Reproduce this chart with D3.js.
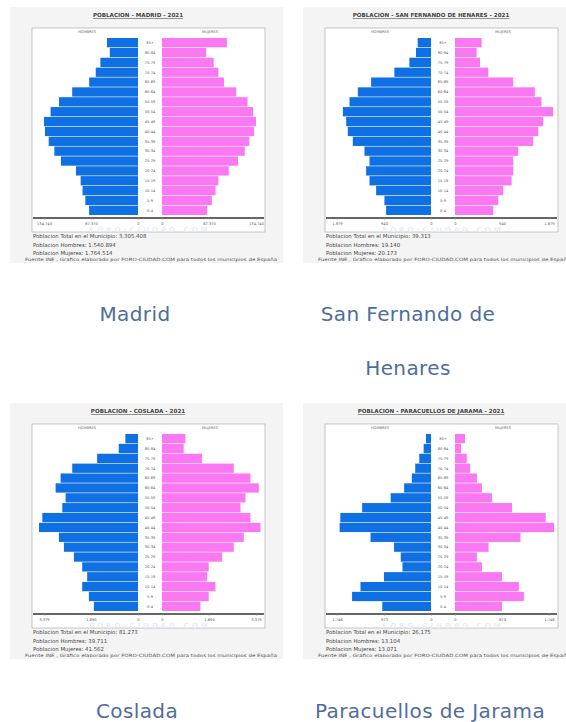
<!DOCTYPE html>
<html>
<head>
<meta charset="utf-8">
<script src="https://cdn.jsdelivr.net/npm/d3@7"></script>
<style>
  body { margin: 0; background: #fff; }
  svg { display: block; }
</style>
</head>
<body>
<svg id="chart"></svg>
<script>

// age groups, top to bottom
var ageGroups = ["85+","80-84","75-79","70-74","65-69","60-64","55-59","50-54","45-49",
                 "40-44","35-39","30-34","25-29","20-24","15-19","10-14","5-9","0-4"];

var madridMen   = [44500, 40400, 53900, 60600, 70000, 94300, 113200, 125300, 134700, 133400, 128000, 119900, 110500, 88900, 82200, 79500, 75500, 70100];
var madridWomen = [93000, 63300, 74100, 80800, 88900, 106400, 122600, 130700, 134700, 132000, 125300, 118600, 109100, 95700, 80800, 76800, 71400, 64700];
var madridTicks = [0, 67370, 134740];

var sanFerMen   = [266, 300, 432, 732, 1197, 1463, 1629, 1762, 1696, 1663, 1563, 1330, 1230, 1297, 1230, 1097, 931, 898];
var sanFerWomen = [532, 432, 499, 665, 1164, 1596, 1729, 1962, 1762, 1663, 1563, 1264, 1164, 1164, 1131, 964, 865, 765];
var sanFerTicks = [0, 940, 1879];

var cosladaMen   = [454, 693, 1469, 2364, 2782, 2961, 2603, 2722, 3439, 3558, 2842, 2663, 2304, 2006, 1827, 2006, 1767, 1588];
var cosladaWomen = [840, 780, 1440, 2580, 3180, 3480, 3000, 2820, 3180, 3540, 2940, 2580, 2160, 1680, 1620, 1920, 1680, 1380];
var cosladaTicks = [0, 1690, 3379];

var paracMen   = [94, 137, 218, 293, 356, 499, 749, 1279, 1685, 1697, 1123, 686, 562, 530, 874, 1310, 1466, 905];
var paracWomen = [187, 112, 218, 281, 406, 499, 686, 1061, 1685, 1841, 1217, 624, 406, 499, 874, 1186, 1279, 874];
var paracTicks = [0, 873, 1746];

var titles = ["POBLACION - MADRID - 2021", "POBLACION - SAN FERNANDO DE HENARES - 2021",
              "POBLACION - COSLADA - 2021", "POBLACION - PARACUELLOS DE JARAMA - 2021"];
var totals  = ["3.305.408", "39.313", "81.273", "26.175"];
var hombres = ["1.540.894", "19.140", "39.711", "13.104"];
var mujeres = ["1.764.514", "20.173", "41.562", "13.071"];
var captions = [["Madrid"], ["San Fernando de", "Henares"], ["Coslada"], ["Paracuellos de Jarama"]];

var municipios = [
  {men: madridMen, women: madridWomen, ticks: madridTicks, x: 10,  y: 7,   cx: 135, cy: 321},
  {men: sanFerMen, women: sanFerWomen, ticks: sanFerTicks, x: 303, y: 7,   cx: 408, cy: 321},
  {men: cosladaMen, women: cosladaWomen, ticks: cosladaTicks, x: 10, y: 403, cx: 137, cy: 718},
  {men: paracMen, women: paracWomen, ticks: paracTicks, x: 303, y: 403, cx: 430, cy: 718}
];

var esLocale = d3.formatLocale({decimal: ",", thousands: ".", grouping: [3], currency: ["", "€"]});
var fmt = esLocale.format(",d");

var svg = d3.select("#chart")
    .attr("width", 566)
    .attr("height", 722);

var blue = "#0f70e4", pink = "#fa78f1";

function drawPyramid(d, i) {
  var g = svg.append("g")
      .attr("transform", "translate(" + d.x + "," + d.y + ")");

  // panel background
  g.append("rect").attr("width", 273).attr("height", 256).attr("fill", "#f4f4f4");
  g.append("rect").attr("x", 22).attr("y", 21).attr("width", 233).attr("height", 204)
      .attr("fill", "#fff").attr("stroke", "#b8b8b8").attr("stroke-width", 0.8);

  g.append("text")
      .attr("x", 128).attr("y", 10)
      .attr("text-anchor", "middle")
      .style("font", "bold 5.6px 'DejaVu Sans'")
      .style("text-decoration", "underline")
      .attr("fill", "#444")
      .text(titles[i]);

  g.append("text").attr("x", 77).attr("y", 26).attr("text-anchor", "middle")
      .style("font", "3.6px 'DejaVu Sans'").attr("fill", "#666").text("HOMBRES");
  g.append("text").attr("x", 200).attr("y", 26).attr("text-anchor", "middle")
      .style("font", "3.6px 'DejaVu Sans'").attr("fill", "#666").text("MUJERES");

  // watermark, kept low under the tick labels
  g.append("text").attr("x", 140).attr("y", 225).attr("text-anchor", "middle")
      .style("font", "bold 7px 'DejaVu Sans'").style("letter-spacing", "3px")
      .attr("fill", "#e9eef5")
      .text("FORO-CIUDAD.COM");

  var y = d3.scaleBand()
      .domain(ageGroups)
      .range([31, 208])
      .paddingInner(0.06);

  var tmax = d.ticks[2];
  var xMen = d3.scaleLinear().domain([0, tmax]).range([128, 128 - 94]);
  var xWomen = d3.scaleLinear().domain([0, tmax]).range([152, 152 + 94]);

  g.selectAll(".men")
      .data(d.men)
    .enter().append("rect")
      .attr("class", "men")
      .attr("x", function(v) { return xMen(v); })
      .attr("y", function(v, k) { return y(ageGroups[k]); })
      .attr("width", function(v) { return xMen(0) - xMen(v); })
      .attr("height", y.bandwidth())
      .attr("fill", blue);

  g.selectAll(".women")
      .data(d.women)
    .enter().append("rect")
      .attr("class", "women")
      .attr("x", xWomen(0))
      .attr("y", function(v, k) { return y(ageGroups[k]); })
      .attr("width", function(v) { return xWomen(v) - xWomen(0); })
      .attr("height", y.bandwidth())
      .attr("fill", pink);

  g.selectAll(".age")
      .data(ageGroups)
    .enter().append("text")
      .attr("class", "age")
      .attr("x", 140)
      .attr("y", function(a) { return y(a) + y.bandwidth() / 2 + 1.3; })
      .attr("text-anchor", "middle")
      .style("font", "3.6px 'DejaVu Sans'")
      .attr("fill", "#555")
      .text(function(a) { return a; });

  // axis line
  g.append("line").attr("x1", 23).attr("x2", 254).attr("y1", 211).attr("y2", 211)
      .attr("stroke", "#333").attr("stroke-width", 1.3);

  var axMen = d3.axisBottom(xMen).tickValues(d.ticks).tickSize(2).tickFormat(fmt);
  var axWomen = d3.axisBottom(xWomen).tickValues(d.ticks).tickSize(2).tickFormat(fmt);
  [axMen, axWomen].forEach(function(ax) {
    var a = g.append("g").attr("transform", "translate(0,211)").call(ax);
    a.select(".domain").remove();
    a.selectAll("line").attr("stroke", "#999").attr("stroke-width", 0.5);
    a.selectAll("text").style("font", "3.6px 'DejaVu Sans'").attr("fill", "#555").attr("y", 4);
  });

  var info = ["Poblacion Total en el Municipio: " + totals[i],
              "Poblacion Hombres: " + hombres[i],
              "Poblacion Mujeres: " + mujeres[i]];
  info.forEach(function(t, k) {
    g.append("text").attr("x", 23).attr("y", 231 + k * 8.5)
        .style("font", "5.4px 'DejaVu Sans'").attr("fill", "#444").text(t);
  });

  g.append("text").attr("x", 15).attr("y", 253.5)
      .attr("textLength", 252).attr("lengthAdjust", "spacingAndGlyphs")
      .style("font", "4.4px 'DejaVu Sans'").attr("fill", "#555")
      .text("Fuente INE , Grafico elaborado por FORO-CIUDAD.COM para todos los municipios de España");

  // caption under the chart
  captions[i].forEach(function(c, k) {
    svg.append("text")
        .attr("x", d.cx).attr("y", d.cy + k * 54)
        .attr("text-anchor", "middle")
        .style("font", "20px 'DejaVu Sans'")
        .style("letter-spacing", "0.4px")
        .attr("fill", "#4e6d9c")
        .text(c);
  });
}

municipios.forEach(drawPyramid);

</script>
</body>
</html>
